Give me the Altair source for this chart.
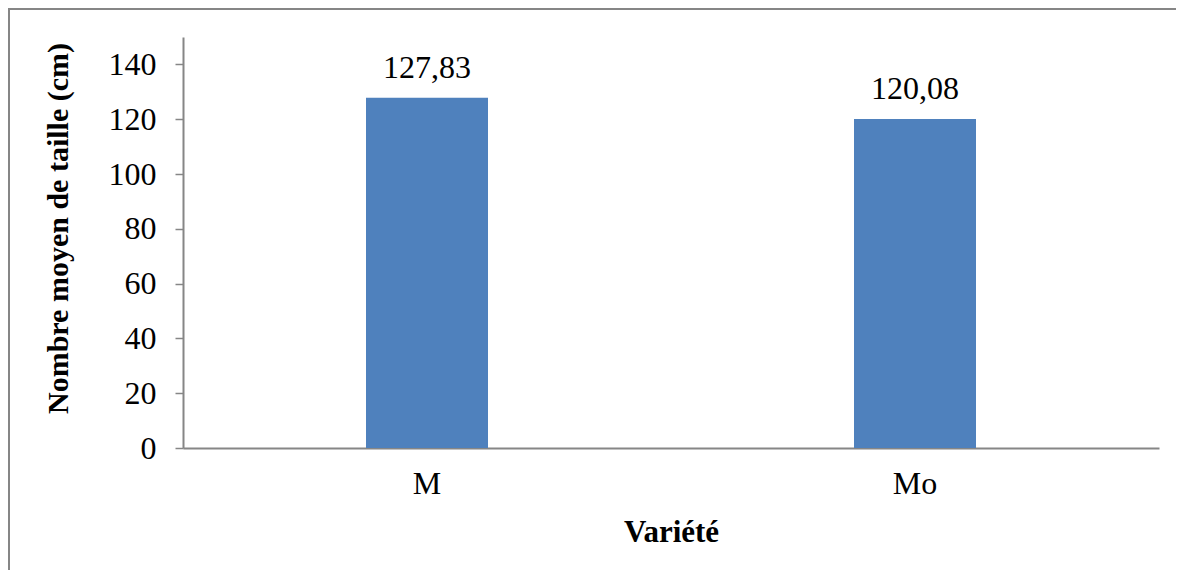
import altair as alt
import pandas as pd

varieties = ["M", "Mo"]
heights = [127.83, 120.08]
y_ticks = [0, 20, 40, 60, 80, 100, 120, 140]

df = pd.DataFrame({
    "Variété": varieties,
    "taille": heights,
    "label": [f"{v:.2f}".replace(".", ",") for v in heights],
})

FONT = "Liberation Serif"
GRAY = "#868686"
BLUE = "#4F81BD"

x_enc = alt.X(
    "Variété:N",
    sort=varieties,
    scale=alt.Scale(paddingInner=0.75, paddingOuter=0.375),
    axis=alt.Axis(
        title="Variété",
        labelAngle=0,
        ticks=False,
        tickSize=0,
        labelPadding=20,
        labelFontSize=32,
        labelFont=FONT,
        labelColor="black",
        domainColor=GRAY,
        domainWidth=2,
        titleFont=FONT,
        titleFontSize=31,
        titleFontWeight="bold",
        titleColor="black",
        titleY=93,
        titleBaseline="alphabetic",
    ),
)

y_enc = alt.Y(
    "taille:Q",
    scale=alt.Scale(domain=[0, 150], nice=False),
    axis=alt.Axis(
        title="Nombre moyen de taille (cm)",
        values=y_ticks,
        grid=False,
        tickSize=8,
        tickColor=GRAY,
        tickWidth=1.5,
        labelPadding=19,
        labelFontSize=32,
        labelFont=FONT,
        labelColor="black",
        domainColor=GRAY,
        domainWidth=2,
        titleFont=FONT,
        titleFontSize=30,
        titleFontWeight="bold",
        titleColor="black",
        titleAngle=-90,
        titleX=-125,
        titleY=191,
        titleBaseline="middle",
    ),
)

bars = alt.Chart(df).mark_bar(color=BLUE).encode(x=x_enc, y=y_enc)

labels = alt.Chart(df).mark_text(
    font=FONT, fontSize=32, color="black", dy=-20, baseline="alphabetic"
).encode(x=alt.X("Variété:N", sort=varieties), y="taille:Q", text="label:N")

one = pd.DataFrame({"a": [0]})
frame_top = alt.Chart(one).mark_rule(stroke=GRAY, strokeWidth=2).encode(
    x=alt.value(-175), x2=alt.value(1000), y=alt.value(-28)
)
frame_left = alt.Chart(one).mark_rule(stroke=GRAY, strokeWidth=2).encode(
    x=alt.value(-174), y=alt.value(-29), y2=alt.value(540)
)

chart = alt.layer(frame_top, frame_left, bars, labels).properties(
    width=976,
    height=411,
    autosize=alt.AutoSizeParams(type="none"),
    padding={"left": 175, "top": 29, "right": 17, "bottom": 122},
    background="white",
).configure_view(stroke=None)

chart.save("out.html", embed_options={"renderer": "svg", "actions": False})
